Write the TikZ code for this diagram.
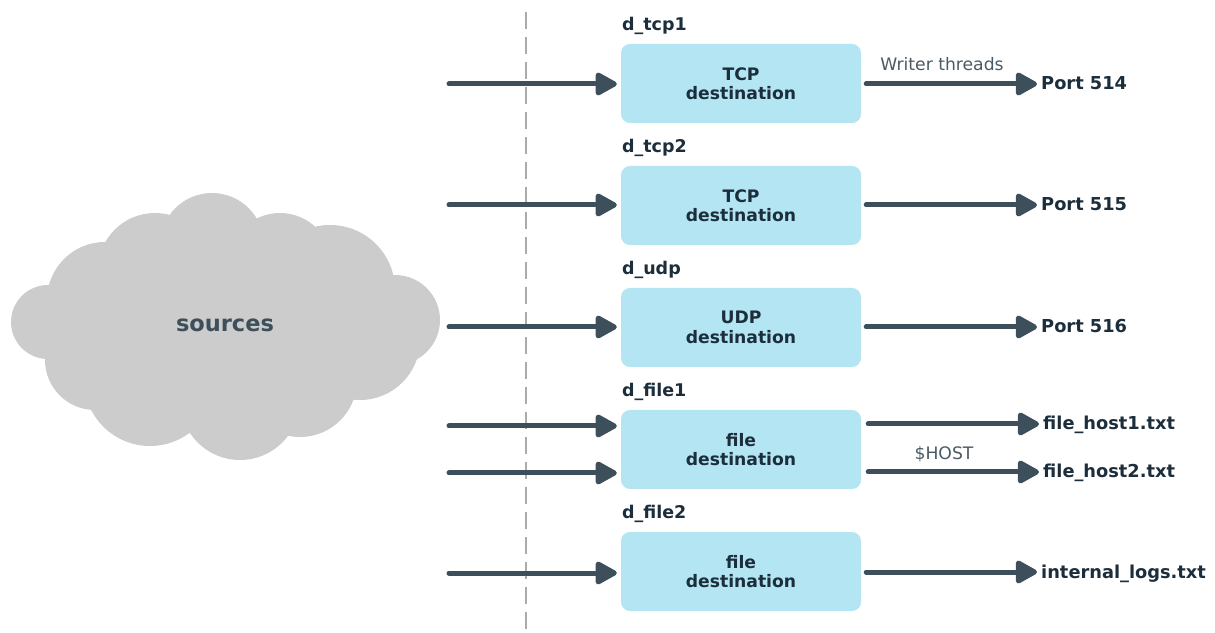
\documentclass[tikz,border=0pt]{standalone}
\usepackage{fontspec}
\setmainfont{DejaVu Sans}
\usetikzlibrary{arrows.meta,positioning}
\definecolor{slate}{HTML}{3D4F5B}
\definecolor{ink}{HTML}{1C2E3B}
\definecolor{destblue}{HTML}{B3E5F3}
\definecolor{cloudgray}{HTML}{CCCCCC}
\definecolor{notegray}{HTML}{4A5A64}
\begin{document}
\begin{tikzpicture}[x=1pt,y=1pt,
    dest/.style={fill=destblue,rounded corners=9pt,minimum width=240pt,minimum height=79pt,
      align=center,font=\fontsize{17.2}{19.5}\selectfont\bfseries,text=ink},
    tag/.style={font=\fontsize{17.5}{20}\selectfont\bfseries,text=ink,inner sep=0pt,anchor=base west},
    target/.style={font=\fontsize{17.8}{20}\selectfont\bfseries,text=ink,anchor=west,
      text height=12pt,text depth=0pt,inner sep=4pt},
    note/.style={font=\fontsize{17.2}{20}\selectfont,text=notegray,inner sep=0pt,anchor=base},
    flow/.style={draw=slate,line width=5pt,line cap=round,
      -{Triangle[length=24pt,width=25pt,round]}}]
  \useasboundingbox (0,0) rectangle (1215,632);
  % sources
  \begin{scope}[fill=cloudgray]
    \fill (48,310) circle (37);
    \fill (105,332) circle (58);
    \fill (155,362) circle (57);
    \fill (212,387) circle (52);
    \fill (280,367) circle (52);
    \fill (330,342) circle (65);
    \fill (395,312) circle (45);
    \fill (360,292) circle (60);
    \fill (300,252) circle (57);
    \fill (240,232) circle (60);
    \fill (150,252) circle (66);
    \fill (95,272) circle (50);
    \fill (225,302) ellipse (170 and 100);
  \end{scope}
  \node[font=\fontsize{22.5}{25}\selectfont\bfseries,text=slate] (src) at (225,307) {sources};
  \draw[draw=black!33,line width=2pt,dash pattern=on 17pt off 8pt] (526,620) -- (526,0);
  % destinations
  \node[dest] (tcp1) at (741,548.5) {TCP\\destination};
  \node[dest] (tcp2) at (741,426.5) {TCP\\destination};
  \node[dest] (udp) at (741,304.5) {UDP\\destination};
  \node[dest] (file1) at (741,182.5) {file\\destination};
  \node[dest] (file2) at (741,60.5) {file\\destination};
  \node[tag] (ltcp1) at ([xshift=1pt,yshift=13pt]tcp1.north west) {d\_tcp1};
  \node[tag] (ltcp2) at ([xshift=1pt,yshift=13pt]tcp2.north west) {d\_tcp2};
  \node[tag] (ludp) at ([xshift=1pt,yshift=13pt]udp.north west) {d\_udp};
  \node[tag] (lfile1) at ([xshift=1pt,yshift=13pt]file1.north west) {d\_file1};
  \node[tag] (lfile2) at ([xshift=1pt,yshift=13pt]file2.north west) {d\_file2};
  % outputs
  \node[target] (p514) at (1037,548) {Port 514};
  \node[target] (p515) at (1037,427) {Port 515};
  \node[target] (p516) at (1037,305) {Port 516};
  \node[target] (host1) at (1039,208) {file\_host1.txt};
  \node[target] (host2) at (1039,160) {file\_host2.txt};
  \node[target] (intlog) at (1037,60) {internal\_logs.txt};
  \node[note] (wthr) at (942,561) {Writer threads};
  \node[note] (hostvar) at (944,172) {\$HOST};
  % inputs
  \coordinate (in1) at (449,548);
  \coordinate (in2) at (449,427);
  \coordinate (in3) at (449,305);
  \coordinate (in4) at (449,206);
  \coordinate (in5) at (449,159);
  \coordinate (in6) at (449,59);
  \begin{scope}[flow,shorten >=4pt]
    \draw (in1) -- (in1 -| tcp1.west);
    \draw (in2) -- (in2 -| tcp2.west);
    \draw (in3) -- (in3 -| udp.west);
    \draw (in4) -- (in4 -| file1.west);
    \draw (in5) -- (in5 -| file1.west);
    \draw (in6) -- (in6 -| file2.west);
  \end{scope}
  \begin{scope}[flow,shorten <=5pt,shorten >=0pt]
    \draw (tcp1.east |- p514.west) -- (p514.west);
    \draw (tcp2.east |- p515.west) -- (p515.west);
    \draw (udp.east |- p516.west) -- (p516.west);
    \draw ([xshift=2pt]file1.east |- host1.west) -- (host1.west);
    \draw ([xshift=2pt]file1.east |- host2.west) -- (host2.west);
    \draw (file2.east |- intlog.west) -- (intlog.west);
  \end{scope}
\end{tikzpicture}
\end{document}
